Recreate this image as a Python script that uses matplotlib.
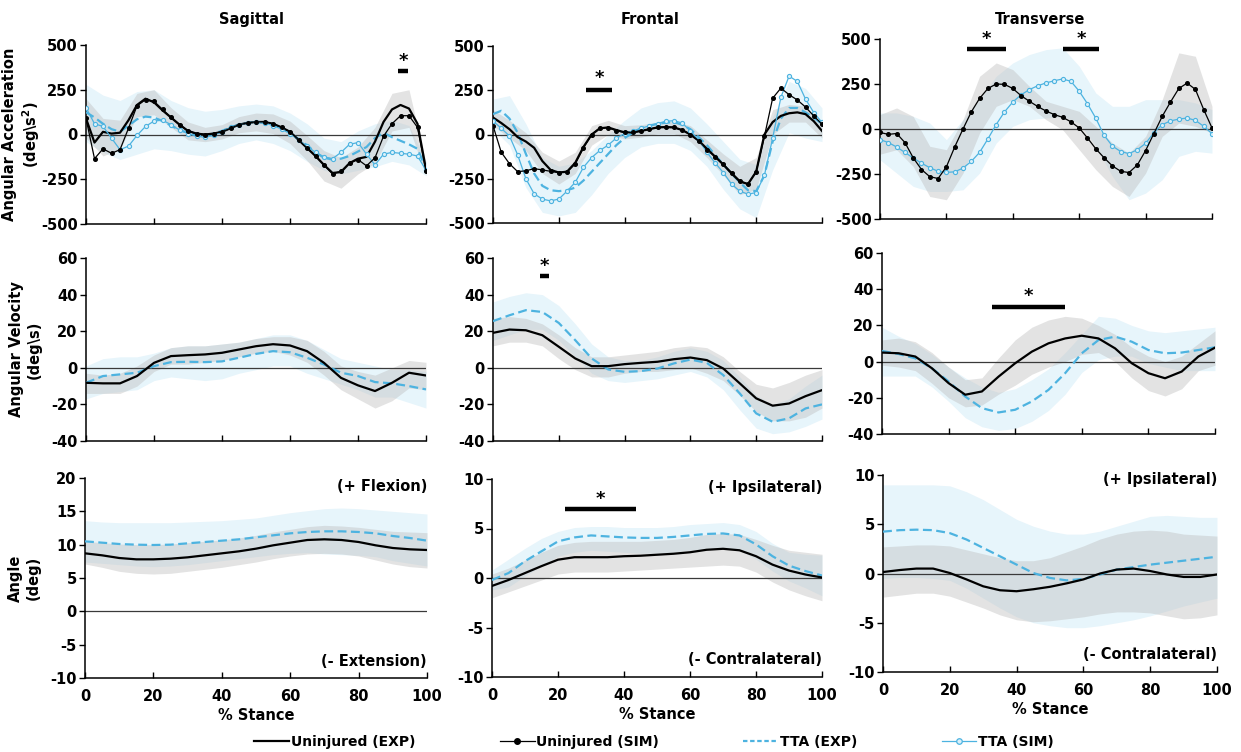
import numpy as np
import matplotlib.pyplot as plt
from matplotlib.lines import Line2D

plt.rcParams['font.family'] = ['DejaVu Sans']
plt.rcParams['font.weight'] = 'bold'
plt.rcParams['axes.unicode_minus'] = False

BLUE = '#4db3e0'
BAND_BLUE = '#c4e6f5'
BAND_GRAY = '#bdbdbd'

# % stance grids: acceleration curves every 2.5 %, the rest (and all bands) every 5 %
stance = np.arange(0, 100.1, 2.5)
stance5 = np.arange(0, 101, 5)

# ---------------- angular acceleration (deg/s^2) ----------------
sag_acc_un_exp = [90, -45, 15, 5, 10, 80, 165, 200, 180, 135, 95, 55, 20, 5, 0, 5, 15, 35, 55, 65, 70,
                  70, 60, 40, 15, -30, -75, -120, -170, -215, -210, -160, -135, -125, -40, 70, 140, 165, 145, 60, -195]
sag_acc_un_sim = [90, -135, -80, -105, -85, 35, 160, 195, 185, 140, 95, 55, 20, 5, 0, 5, 15, 35, 55, 65, 70,
                  70, 60, 40, 15, -30, -75, -120, -170, -220, -205, -160, -140, -175, -130, -10, 60, 105, 105, 40, -205]
sag_acc_tta_exp = [125, 95, 60, 30, 15, 50, 85, 100, 95, 75, 50, 25, 10, 0, -5, 5, 20, 40, 55, 65, 70,
                   65, 55, 35, 10, -25, -60, -100, -130, -140, -135, -120, -95, -70, -20, 10, -15, -35, -55, -80, -190]
sag_acc_tta_sim = [150, 60, 45, -20, -85, -65, -5, 45, 75, 80, 55, 25, 5, -10, -15, -5, 15, 40, 55, 65, 70,
                   65, 50, 30, 5, -30, -65, -100, -125, -135, -100, -55, -45, -110, -170, -110, -100, -105, -110, -120, -200]
sag_acc_gray_hi = [200, 90, 80, 230, 250, 150, 70, 40, 55, 100, 120, 115, 75, -5, -90, -130, -70, 40, 230, 250, -160]
sag_acc_gray_lo = [-20, -120, -80, 100, 110, 40, -30, -40, -25, 10, 20, 5, -50, -145, -260, -300, -220, -160, 20, 40, -230]
sag_acc_blue_hi = [280, 220, 190, 240, 250, 190, 150, 130, 140, 160, 170, 160, 120, 60, -20, -40, 20, 60, 80, 50, -150]
sag_acc_blue_lo = [-40, -100, -140, -110, -80, -90, -110, -120, -90, -50, -30, -50, -90, -150, -200, -220, -200, -180, -150, -170, -230]

front_acc_un_exp = [96, 65, 30, -15, -40, -75, -150, -200, -215, -210, -160, -70, 0, 35, 40, 25, 12, 12, 20, 30, 40,
                    42, 40, 25, 0, -35, -80, -125, -170, -220, -265, -280, -210, 0, 70, 105, 120, 125, 115, 75, 20]
front_acc_un_sim = [50, -100, -165, -210, -205, -193, -200, -208, -215, -212, -165, -75, 0, 38, 38, 22, 12, 12, 20, 30, 40,
                    42, 40, 25, 0, -35, -85, -125, -168, -215, -262, -280, -210, -10, 205, 262, 225, 195, 155, 105, 58]
front_acc_tta_exp = [115, 134, 90, 10, -110, -220, -290, -315, -320, -315, -300, -260, -210, -160, -110, -60, -20, 10, 35, 50, 60,
                     67, 70, 55, 30, -15, -60, -115, -170, -220, -270, -315, -320, -230, -40, 90, 150, 150, 125, 95, 60]
front_acc_tta_sim = [77, 35, -8, -115, -250, -335, -365, -375, -365, -320, -270, -185, -130, -90, -60, -20, 5, 20, 35, 49, 62,
                     75, 78, 65, 20, -30, -100, -160, -215, -280, -320, -337, -328, -230, -20, 210, 330, 300, 200, 124, 68]
front_acc_gray_hi = [140, 80, 10, -100, -150, -100, 50, 80, 50, 55, 70, 75, 50, -30, -110, -180, -130, 140, 170, 160, 60]
front_acc_gray_lo = [50, -20, -90, -220, -280, -220, -60, 0, -25, -15, 5, 5, -40, -130, -230, -340, -310, 0, 70, 70, -20]
front_acc_blue_hi = [200, 220, 60, -130, -180, -160, -90, 0, 80, 150, 180, 190, 150, 60, -40, -140, -170, 100, 300, 260, 150]
front_acc_blue_lo = [30, -60, -300, -440, -460, -440, -340, -220, -130, -70, -50, -50, -90, -180, -310, -420, -470, -200, 10, -20, -40]

trans_acc_un_sim = [-19, -30, -25, -75, -160, -225, -265, -275, -210, -100, 0, 95, 170, 225, 250, 248, 225, 185, 154, 125, 100,
                    80, 65, 40, 6, -50, -110, -160, -205, -235, -242, -200, -120, -25, 70, 150, 225, 255, 220, 108, 6]
trans_acc_tta_sim = [-59, -75, -100, -130, -161, -190, -215, -235, -241, -238, -217, -180, -130, -55, 25, 95, 150, 190, 219, 240, 256,
                     268, 278, 265, 210, 140, 60, -35, -95, -125, -137, -115, -80, -20, 24, 45, 55, 61, 48, 15, -26]
trans_acc_gray_hi = [80, 117, 70, -96, -115, 52, 293, 367, 330, 237, 154, 126, 98, 15, -78, -134, -41, 163, 423, 404, 126]
trans_acc_gray_lo = [-140, -115, -208, -375, -393, -245, -22, 126, 163, 126, 52, -4, -115, -226, -319, -375, -245, -41, 33, 15, -22]
trans_acc_blue_hi = [89, 89, 70, 33, -59, 52, 163, 293, 367, 414, 441, 451, 349, 200, 126, 126, 163, 163, 163, 145, 108]
trans_acc_blue_lo = [-171, -245, -319, -347, -347, -338, -245, -78, 15, 52, 61, 70, 33, -96, -263, -393, -356, -282, -152, -124, -134]

# ---------------- angular velocity (deg/s) ----------------
sag_vel_un = [-8.2, -8.5, -8.5, -4.5, 2.7, 6.4, 6.9, 7.3, 8.2, 10.0, 11.8, 12.9, 12.2, 9.1, 2.7, -5.5, -9.6, -12.7, -8.2, -2.7, -4.2]
sag_vel_tta = [-8.2, -4.5, -3.6, -2.7, 0.9, 3.1, 3.3, 3.1, 3.5, 5.5, 7.6, 9.1, 8.5, 5.5, 1.8, -2.7, -4.5, -7.8, -8.5, -10.0, -11.8]
sag_vel_gray_hi = [-3, -4, -3, 1, 7, 11, 12, 12, 13, 14, 16, 17, 17, 15, 9, 1, -2, -4, 0, 4, 3]
sag_vel_gray_lo = [-14, -14, -14, -10, -2, 2, 2, 3, 4, 6, 8, 9, 7, 3, -4, -12, -17, -22, -18, -11, -12]
sag_vel_blue_hi = [1, 5, 6, 6, 8, 11, 12, 12, 13, 14, 16, 18, 18, 15, 10, 5, 3, 1, -1, -1, -2]
sag_vel_blue_lo = [-17, -14, -13, -12, -7, -5, -6, -7, -6, -3, -1, 1, 1, -3, -6, -9, -12, -16, -16, -19, -22]

front_vel_un = [19.1, 20.9, 20.5, 17.8, 11.5, 5.1, 0.9, 0.9, 2.0, 2.7, 3.3, 4.7, 5.6, 4.2, -0.4, -8.5, -16.7, -20.7, -19.5, -15.5, -12.2]
front_vel_tta = [25.5, 28.7, 31.5, 30.5, 24.5, 15.1, 5.1, -0.9, -2.2, -1.8, -0.4, 2.4, 4.5, 2.7, -4.0, -14.0, -24.9, -29.5, -27.6, -22.2, -20.0]
front_vel_gray_hi = [27, 28, 27, 24, 18, 11, 6, 6, 7, 8, 9, 11, 12, 11, 6, -2, -9, -11, -8, -4, -1]
front_vel_gray_lo = [12, 14, 14, 12, 5, -1, -5, -5, -3, -2, -2, -1, 0, -3, -7, -15, -24, -29, -29, -27, -22]
front_vel_blue_hi = [36, 39, 41, 40, 34, 24, 13, 6, 4, 4, 6, 9, 11, 9, 4, -5, -15, -20, -17, -10, -4]
front_vel_blue_lo = [15, 18, 21, 21, 15, 6, -3, -7, -8, -7, -6, -4, -2, -5, -12, -23, -33, -36, -35, -32, -28]

trans_vel_un = [5.0, 4.6, 2.8, -3.7, -11.9, -18.3, -16.5, -8.3, -0.9, 5.5, 10.1, 12.8, 14.3, 12.8, 7.3, -0.9, -6.4, -9.2, -5.5, 2.8, 7.7]
trans_vel_tta = [5.9, 4.2, 1.8, -3.7, -11.0, -19.3, -25.7, -28.1, -26.6, -22.0, -15.6, -6.4, 4.6, 11.9, 13.8, 11.0, 6.4, 4.6, 5.0, 6.4, 7.9]
trans_vel_gray_hi = [12, 13, 11, 5, -3, -10, -9, 2, 12, 19, 23, 25, 24, 20, 15, 8, 3, 0, 3, 10, 17]
trans_vel_gray_lo = [-2, -3, -5, -12, -20, -25, -24, -18, -13, -7, -3, 0, 4, 5, 0, -9, -16, -19, -15, -5, -2]
trans_vel_blue_hi = [19, 14, 10, 4, -3, -9, -14, -17, -15, -10, -4, 5, 15, 25, 24, 20, 17, 16, 17, 18, 19]
trans_vel_blue_lo = [-8, -8, -8, -14, -22, -31, -36, -38, -37, -33, -27, -18, -6, 1, 3, 3, -1, -3, -5, -5, -5]

# ---------------- angle (deg) ----------------
sag_ang_un = [8.7, 8.4, 8.0, 7.8, 7.8, 7.9, 8.1, 8.4, 8.7, 9.0, 9.4, 9.9, 10.3, 10.7, 10.8, 10.7, 10.4, 9.9, 9.5, 9.3, 9.2]
sag_ang_tta = [10.5, 10.3, 10.1, 10.0, 9.95, 10.0, 10.2, 10.4, 10.6, 10.8, 11.1, 11.4, 11.7, 11.9, 12.0, 12.0, 11.9, 11.7, 11.3, 11.0, 10.6]
sag_ang_gray_hi = [10.5, 10.3, 10.1, 10.0, 10.0, 10.1, 10.3, 10.5, 10.7, 11.0, 11.4, 11.9, 12.3, 12.7, 12.9, 12.8, 12.6, 12.3, 12.0, 11.9, 11.8]
sag_ang_gray_lo = [7.1, 6.6, 6.0, 5.7, 5.6, 5.7, 6.0, 6.3, 6.6, 7.0, 7.4, 7.9, 8.3, 8.6, 8.7, 8.6, 8.3, 7.7, 7.1, 6.7, 6.5]
sag_ang_blue_hi = [13.6, 13.4, 13.3, 13.3, 13.3, 13.3, 13.4, 13.5, 13.6, 13.8, 14.0, 14.4, 14.8, 15.1, 15.4, 15.5, 15.4, 15.2, 15.0, 14.8, 14.6]
sag_ang_blue_lo = [7.4, 7.2, 7.0, 6.8, 6.7, 6.8, 7.0, 7.3, 7.6, 7.9, 8.2, 8.5, 8.7, 8.8, 8.6, 8.5, 8.4, 8.2, 7.6, 7.2, 6.8]

front_ang_un = [-0.8, -0.2, 0.5, 1.2, 1.85, 2.1, 2.1, 2.1, 2.2, 2.25, 2.35, 2.45, 2.6, 2.85, 2.95, 2.8, 2.2, 1.35, 0.75, 0.35, 0.05]
front_ang_tta = [-0.2, 0.5, 1.7, 2.7, 3.7, 4.1, 4.3, 4.2, 4.1, 4.05, 4.05, 4.15, 4.3, 4.45, 4.5, 4.3, 3.4, 2.2, 1.25, 0.7, 0.25]
front_ang_gray_hi = [0.4, 1.0, 1.8, 2.6, 3.3, 3.6, 3.7, 3.7, 3.7, 3.7, 3.8, 3.9, 4.1, 4.4, 4.5, 4.4, 3.9, 3.3, 2.8, 2.6, 2.4]
front_ang_gray_lo = [-2.0, -1.4, -0.8, -0.2, 0.4, 0.6, 0.6, 0.6, 0.7, 0.8, 0.9, 1.0, 1.1, 1.2, 1.3, 1.2, 0.6, -0.4, -1.2, -1.8, -2.3]
front_ang_blue_hi = [0.8, 1.9, 3.0, 4.0, 4.7, 5.1, 5.2, 5.2, 5.1, 5.1, 5.1, 5.2, 5.4, 5.5, 5.6, 5.4, 4.7, 3.5, 2.6, 2.4, 2.3]
front_ang_blue_lo = [-1.2, -0.9, 0.2, 1.2, 2.2, 2.6, 2.8, 2.7, 2.6, 2.5, 2.5, 2.6, 2.8, 2.9, 3.0, 2.8, 1.9, 0.7, -0.3, -1.0, -1.8]

trans_ang_un = [0.15, 0.35, 0.5, 0.5, 0.05, -0.6, -1.3, -1.7, -1.8, -1.6, -1.35, -1.0, -0.6, 0.0, 0.4, 0.5, 0.25, -0.1, -0.35, -0.35, -0.1]
trans_ang_tta = [4.25, 4.4, 4.45, 4.4, 4.1, 3.45, 2.6, 1.75, 0.9, 0.05, -0.45, -0.7, -0.55, -0.1, 0.4, 0.65, 0.9, 1.1, 1.3, 1.5, 1.7]
trans_ang_gray_hi = [2.7, 2.8, 2.9, 2.9, 2.8, 2.4, 2.0, 1.6, 1.3, 1.3, 1.6, 2.2, 2.8, 3.5, 4.0, 4.3, 4.4, 4.3, 4.0, 3.9, 3.8]
trans_ang_gray_lo = [-2.4, -2.2, -2.0, -2.0, -2.3, -2.9, -3.5, -4.2, -4.7, -4.9, -4.8, -4.6, -4.4, -4.1, -3.9, -3.9, -4.0, -4.3, -4.6, -4.5, -4.2]
trans_ang_blue_hi = [9.0, 9.0, 9.0, 9.0, 8.9, 8.3, 7.5, 6.5, 5.5, 4.8, 4.3, 4.0, 4.0, 4.3, 4.8, 5.3, 5.8, 5.9, 5.8, 5.7, 5.7]
trans_ang_blue_lo = [-0.5, -0.4, -0.4, -0.5, -0.7, -1.5, -2.5, -3.5, -4.4, -5.0, -5.3, -5.5, -5.5, -5.3, -5.0, -4.7, -4.3, -3.8, -3.3, -2.9, -2.5]

# significance bars: (row, col, start %, end %, bar level, star level)
sig_bars = [
    (0, 0, 91.8, 94.7, 352, 410),
    (0, 1, 28.3, 36.2, 250, 318),
    (0, 2, 26.2, 37.9, 444, 498),
    (0, 2, 55.1, 66.0, 444, 498),
    (1, 1, 14.3, 17.0, 50.3, 55.5),
    (1, 2, 33.0, 55.0, 30.0, 36.0),
    (2, 1, 22.0, 43.6, 7.0, 8.0),
]

plane_titles = ['Sagittal', 'Frontal', 'Transverse']
row_labels = ['Angular Acceleration\n(deg\\s$^2$)', 'Angular Velocity\n(deg\\s)', 'Angle\n(deg)']

panels = {
    (0, 0): dict(x=stance, un_exp=sag_acc_un_exp, un_sim=sag_acc_un_sim, tta_exp=sag_acc_tta_exp, tta_sim=sag_acc_tta_sim,
                 gray=(sag_acc_gray_lo, sag_acc_gray_hi), blue=(sag_acc_blue_lo, sag_acc_blue_hi)),
    (0, 1): dict(x=stance, un_exp=front_acc_un_exp, un_sim=front_acc_un_sim, tta_exp=front_acc_tta_exp, tta_sim=front_acc_tta_sim,
                 gray=(front_acc_gray_lo, front_acc_gray_hi), blue=(front_acc_blue_lo, front_acc_blue_hi)),
    (0, 2): dict(x=stance, un_sim=trans_acc_un_sim, tta_sim=trans_acc_tta_sim,
                 gray=(trans_acc_gray_lo, trans_acc_gray_hi), blue=(trans_acc_blue_lo, trans_acc_blue_hi)),
    (1, 0): dict(x=stance5, un_exp=sag_vel_un, tta_exp=sag_vel_tta,
                 gray=(sag_vel_gray_lo, sag_vel_gray_hi), blue=(sag_vel_blue_lo, sag_vel_blue_hi)),
    (1, 1): dict(x=stance5, un_exp=front_vel_un, tta_exp=front_vel_tta,
                 gray=(front_vel_gray_lo, front_vel_gray_hi), blue=(front_vel_blue_lo, front_vel_blue_hi)),
    (1, 2): dict(x=stance5, un_exp=trans_vel_un, tta_exp=trans_vel_tta,
                 gray=(trans_vel_gray_lo, trans_vel_gray_hi), blue=(trans_vel_blue_lo, trans_vel_blue_hi)),
    (2, 0): dict(x=stance5, un_exp=sag_ang_un, tta_exp=sag_ang_tta,
                 gray=(sag_ang_gray_lo, sag_ang_gray_hi), blue=(sag_ang_blue_lo, sag_ang_blue_hi)),
    (2, 1): dict(x=stance5, un_exp=front_ang_un, tta_exp=front_ang_tta,
                 gray=(front_ang_gray_lo, front_ang_gray_hi), blue=(front_ang_blue_lo, front_ang_blue_hi)),
    (2, 2): dict(x=stance5, un_exp=trans_ang_un, tta_exp=trans_ang_tta,
                 gray=(trans_ang_gray_lo, trans_ang_gray_hi), blue=(trans_ang_blue_lo, trans_ang_blue_hi)),
}

yticks = {
    0: [-500, -250, 0, 250, 500],
    1: [-40, -20, 0, 20, 40, 60],
}
ang_ticks = {0: [-10, -5, 0, 5, 10, 15, 20], 1: [-10, -5, 0, 5, 10], 2: [-10, -5, 0, 5, 10]}
ang_notes = {0: ('(+ Flexion)', '(- Extension)'), 1: ('(+ Ipsilateral)', '(- Contralateral)'),
             2: ('(+ Ipsilateral)', '(- Contralateral)')}

# axes boxes in pixels: left, top, right, bottom
W, H = 1241, 752
boxes = {
    (0, 0): (86, 45, 426, 224), (0, 1): (493, 46, 822, 223), (0, 2): (880, 39, 1212, 219),
    (1, 0): (86, 258, 426, 441), (1, 1): (493, 258, 822, 441), (1, 2): (882, 253, 1215, 434),
    (2, 0): (85, 478, 427, 678), (2, 1): (492, 479, 822, 677), (2, 2): (883, 475, 1217, 672),
}

fig = plt.figure(figsize=(W / 100, H / 100), dpi=100)

for (r, c), p in panels.items():
    l, t, rr, b = boxes[(r, c)]
    ax = fig.add_axes([l / W, 1 - b / H, (rr - l) / W, (b - t) / H])
    ax.fill_between(stance5, p['blue'][0], p['blue'][1], color=BAND_BLUE, alpha=0.4, lw=0, zorder=0)
    ax.fill_between(stance5, p['gray'][0], p['gray'][1], color=BAND_GRAY, alpha=0.42, lw=0, zorder=0)
    ax.axhline(0, color='#3a3a3a', lw=0.9, zorder=1)
    x = p['x']
    if 'tta_exp' in p:
        ax.plot(x, p['tta_exp'], color=BLUE, lw=1.6, dashes=(4, 2), zorder=3)
    if 'un_exp' in p:
        ax.plot(x, p['un_exp'], color='k', lw=1.6, zorder=4)
    if 'tta_sim' in p:
        ax.plot(x, p['tta_sim'], color=BLUE, lw=0.9, marker='o', ms=3, mfc='#d9f0fa', mec=BLUE, mew=0.8, zorder=5)
    if 'un_sim' in p:
        ax.plot(x, p['un_sim'], color='k', lw=0.9, marker='o', ms=2.6, mfc='k', mec='k', zorder=6)

    ax.set_xlim(0, 100)
    ax.set_xticks([0, 20, 40, 60, 80, 100])
    if r < 2:
        ax.set_ylim(yticks[r][0], yticks[r][-1])
        ax.set_yticks(yticks[r])
        ax.set_xticklabels([])
    else:
        ax.set_ylim(ang_ticks[c][0], ang_ticks[c][-1])
        ax.set_yticks(ang_ticks[c])
        ax.set_xlabel('% Stance', fontsize=10.5, fontweight='bold', labelpad=3)
        top_note, bottom_note = ang_notes[c]
        ax.text(1.0, 0.955 if c < 2 else 0.975, top_note, transform=ax.transAxes, ha='right', va='center',
                fontsize=10.5, fontweight='bold')
        ax.text(1.0, 0.08 if c == 0 else 0.09, bottom_note, transform=ax.transAxes, ha='right', va='center',
                fontsize=10.5, fontweight='bold')

    for s in ['top', 'right']:
        ax.spines[s].set_visible(False)
    for s in ['left', 'bottom']:
        ax.spines[s].set_linewidth(1.1)
    ax.tick_params(axis='y', direction='out', length=4, width=1, labelsize=10.5, pad=2)
    ax.tick_params(axis='x', direction='in', length=4, width=1, labelsize=10.5, pad=8)

    if c == 0:
        ax.set_ylabel(row_labels[r], fontsize=10.5, fontweight='bold')
        ax.yaxis.set_label_coords(-0.13, 0.5)

    for (sr, sc, x0, x1, yb, ys) in sig_bars:
        if (sr, sc) == (r, c):
            ax.plot([x0, x1], [yb, yb], color='k', lw=3.2, solid_capstyle='butt', zorder=7)
            ax.text((x0 + x1) / 2, ys, '*', ha='center', va='center', fontsize=13, fontweight='bold')

title_x = [252, 650, 1040]
for name, tx in zip(plane_titles, title_x):
    fig.text(tx / W, 1 - 19.5 / H, name, ha='center', va='center', fontsize=10.5, fontweight='bold')

handles = [
    Line2D([], [], color='k', lw=1.6),
    Line2D([], [], color='k', lw=0.9, marker='o', ms=4, mfc='k'),
    Line2D([], [], color=BLUE, lw=1.6, dashes=(2, 1.2)),
    Line2D([], [], color=BLUE, lw=0.9, marker='o', ms=4, mfc='#d9f0fa', mec=BLUE, mew=0.9),
]
labels = ['Uninjured (EXP)', 'Uninjured (SIM)', 'TTA (EXP)', 'TTA (SIM)']
fig.legend(handles, labels, loc='center', bbox_to_anchor=(0.527, 0.013), ncol=4, frameon=False,
           handlelength=2.5, handletextpad=0.1, columnspacing=6.1, fontsize=10, borderaxespad=0,
           borderpad=0, numpoints=1)

fig.savefig('out.png', dpi=100)
